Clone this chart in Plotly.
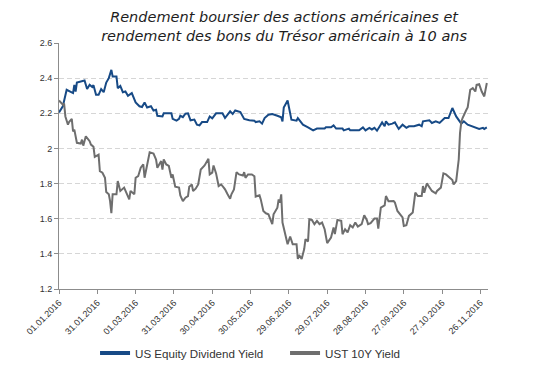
import plotly.graph_objects as go

# US Equity Dividend Yield (date, value)
eq_dates = ["01-01","01-04","01-07","01-10","01-12","01-13","01-14","01-15","01-19","01-21","01-23","01-25","01-27","01-28","01-30",
            "02-01","02-03","02-05","02-07","02-09","02-11","02-12","02-15","02-16","02-18","02-20","02-22","02-24","02-27",
            "03-01","03-04","03-06","03-08","03-10","03-13","03-15","03-17","03-18","03-22","03-23","03-29","03-30",
            "04-02","04-04","04-05","04-07","04-09","04-11","04-13","04-16","04-18","04-20","04-22","04-26","04-28","04-30",
            "05-03","05-08","05-10","05-12","05-14","05-16","05-18","05-22","05-25","05-29",
            "06-02","06-03","06-06","06-08","06-10","06-13","06-16","06-20","06-23","06-24","06-25","06-28","06-29",
            "07-01","07-05","07-06","07-08","07-10","07-14","07-18","07-21","07-27","07-28",
            "08-01","08-03","08-05","08-10","08-11","08-15","08-16","08-20","08-23","08-26","08-28","08-31",
            "09-02","09-04","09-06","09-10","09-12","09-13","09-15","09-18","09-20","09-23","09-26","09-29",
            "10-01","10-05","10-09","10-11","10-12","10-17","10-19","10-22","10-25","10-29",
            "11-01","11-04","11-07","11-11","11-13","11-16","11-18","11-22","11-25","11-28","11-29","12-01"]
eq_values = [2.205,2.24,2.334,2.324,2.315,2.362,2.324,2.375,2.383,2.387,2.338,2.362,2.349,2.36,2.305,
             2.305,2.338,2.32,2.375,2.40,2.447,2.41,2.41,2.343,2.356,2.32,2.324,2.30,2.315,
             2.262,2.24,2.236,2.262,2.233,2.24,2.216,2.22,2.186,2.182,2.20,2.20,2.168,
             2.158,2.168,2.186,2.178,2.198,2.20,2.16,2.164,2.135,2.131,2.15,2.15,2.182,2.171,
             2.20,2.20,2.173,2.196,2.211,2.196,2.216,2.207,2.168,2.16,
             2.158,2.15,2.154,2.141,2.173,2.192,2.196,2.186,2.177,2.154,2.233,2.273,2.23,
             2.164,2.158,2.173,2.154,2.135,2.12,2.103,2.113,2.113,2.12,
             2.12,2.131,2.113,2.113,2.103,2.113,2.103,2.103,2.103,2.12,2.103,2.117,
             2.108,2.117,2.101,2.148,2.126,2.154,2.135,2.141,2.148,2.111,2.135,2.117,
             2.126,2.126,2.135,2.126,2.154,2.16,2.145,2.154,2.145,2.173,
             2.173,2.23,2.182,2.141,2.154,2.135,2.13,2.122,2.111,2.117,2.111,2.12]

# UST 10Y Yield (date, value)
ust_dates = ["01-01","01-04","01-05","01-06","01-08","01-09","01-11","01-12","01-13","01-15","01-18","01-19","01-20","01-22","01-25","01-26","01-28","01-29",
             "02-01","02-02","02-04","02-06","02-07","02-09","02-10","02-11","02-12","02-15","02-16","02-18","02-21","02-23","02-25","02-26","02-29",
             "03-01","03-03","03-05","03-07","03-08","03-10","03-12","03-15","03-17","03-18","03-21","03-22","03-23","03-25","03-27","03-29","03-30",
             "04-01","04-04","04-05","04-07","04-09","04-11","04-12","04-14","04-15","04-17","04-19","04-21","04-24","04-25","04-27","04-28","04-30",
             "05-01","05-03","05-05","05-07","05-09","05-10","05-12","05-14","05-15","05-17","05-19","05-21","05-24","05-25","05-26","05-28","05-31",
             "06-02","06-03","06-06","06-07","06-09","06-11","06-13","06-16","06-17","06-20","06-21","06-22","06-23","06-24","06-27","06-28","06-30",
             "07-01","07-02","07-05","07-06","07-07","07-09","07-11","07-12","07-14","07-15","07-17","07-19","07-21","07-23","07-25","07-27","07-29",
             "08-01","08-03","08-04","08-06","08-09","08-10","08-12","08-14","08-16","08-18","08-20","08-22","08-25","08-27","08-29","08-30",
             "09-01","09-04","09-06","09-07","09-09","09-12","09-13","09-15","09-19","09-20","09-22","09-26","09-27","09-29",
             "10-01","10-04","10-06","10-08","10-11","10-12","10-13","10-15","10-17","10-19","10-22","10-23","10-26","10-28","10-30",
             "11-02","11-04","11-05","11-07","11-09","11-10","11-11","11-12","11-15","11-16","11-18","11-20","11-22","11-23","11-25","11-27","11-29","11-30","12-01"]
ust_values = [2.273,2.249,2.255,2.182,2.135,2.152,2.168,2.097,2.107,2.032,2.028,2.05,2.016,2.069,2.041,2.022,2.009,1.952,
              1.965,1.871,1.862,1.833,1.752,1.739,1.70,1.631,1.739,1.739,1.814,1.758,1.777,1.748,1.71,1.758,1.739,
              1.833,1.842,1.89,1.909,1.833,1.918,1.978,1.971,1.937,1.89,1.928,1.88,1.937,1.909,1.90,1.833,1.852,
              1.782,1.777,1.733,1.70,1.72,1.729,1.782,1.795,1.758,1.771,1.795,1.88,1.903,1.918,1.941,1.852,1.862,
              1.903,1.858,1.786,1.795,1.777,1.767,1.739,1.714,1.739,1.767,1.865,1.852,1.846,1.865,1.833,1.852,1.852,
              1.842,1.726,1.733,1.71,1.644,1.631,1.625,1.569,1.625,1.663,1.71,1.692,1.739,1.578,1.493,1.455,1.499,
              1.48,1.455,1.455,1.371,1.393,1.371,1.427,1.484,1.47,1.597,1.593,1.569,1.588,1.569,1.578,1.54,1.461,
              1.493,1.55,1.512,1.593,1.588,1.512,1.54,1.522,1.563,1.55,1.578,1.555,1.569,1.62,1.593,1.569,
              1.575,1.601,1.601,1.544,1.663,1.676,1.729,1.70,1.701,1.692,1.644,1.607,1.559,1.563,
              1.616,1.635,1.748,1.729,1.729,1.786,1.748,1.801,1.777,1.758,1.745,1.758,1.777,1.858,1.852,
              1.833,1.82,1.795,1.814,1.937,2.088,2.15,2.173,2.22,2.233,2.334,2.343,2.324,2.362,2.366,2.324,2.296,2.33,2.372]

series_names = ["US Equity Dividend Yield", "UST 10Y Yield"]
colors = ["#174a86", "#6e6e6e"]

eq_x = ["2016-" + d for d in eq_dates]
ust_x = ["2016-" + d for d in ust_dates]

fig = go.Figure()
fig.add_trace(go.Scatter(x=eq_x, y=eq_values, mode="lines", line=dict(color=colors[0], width=2),
                         showlegend=False, name=series_names[0]))
fig.add_trace(go.Scatter(x=ust_x, y=ust_values, mode="lines", line=dict(color=colors[1], width=2),
                         showlegend=False, name=series_names[1]))
# legend entries with thicker line symbol
for nm, c in zip(series_names, colors):
    fig.add_trace(go.Scatter(x=[None], y=[None], mode="lines", line=dict(color=c, width=4), name=nm))

fig.update_layout(
    width=550, height=370,
    margin=dict(l=51, r=70, t=35, b=88),
    paper_bgcolor="white", plot_bgcolor="white",
    title=dict(text="Rendement boursier des actions américaines et<br>rendement des bons du Trésor américain à 10 ans",
               x=0.502, xanchor="center", y=0.963, yanchor="middle", yref="container",
               font=dict(family="DejaVu Sans", size=14.5, color="#1e1e1e", style="italic")),
    legend=dict(orientation="h", x=0.084, xanchor="left", y=-0.255, yanchor="middle",
                font=dict(family="Liberation Sans", size=11.6, color="#333333"),
                itemwidth=30, entrywidth=145, entrywidthmode="pixels", tracegroupgap=0,
                bgcolor="rgba(0,0,0,0)"),
    showlegend=True,
)
fig.update_xaxes(type="date", range=["2016-01-01", "2016-12-01 22:00"],
                 tick0="2016-01-01", dtick=30 * 86400000, tickformat="%d.%m.%Y", tickangle=-45,
                 showgrid=False, showline=True, linecolor="#8c8c8c", linewidth=1,
                 ticks="outside", ticklen=4, tickcolor="#8c8c8c",
                 tickfont=dict(family="Liberation Sans", size=9, color="#333333"))
fig.update_yaxes(range=[1.2, 2.6], dtick=0.2, showgrid=True, gridcolor="#d6d6d6", griddash="5px,3px",
                 showline=True, linecolor="#8c8c8c", linewidth=1, zeroline=False,
                 ticks="outside", ticklen=4, tickcolor="#8c8c8c",
                 tickfont=dict(family="Liberation Sans", size=9, color="#333333"))

fig.write_html("out.html")
